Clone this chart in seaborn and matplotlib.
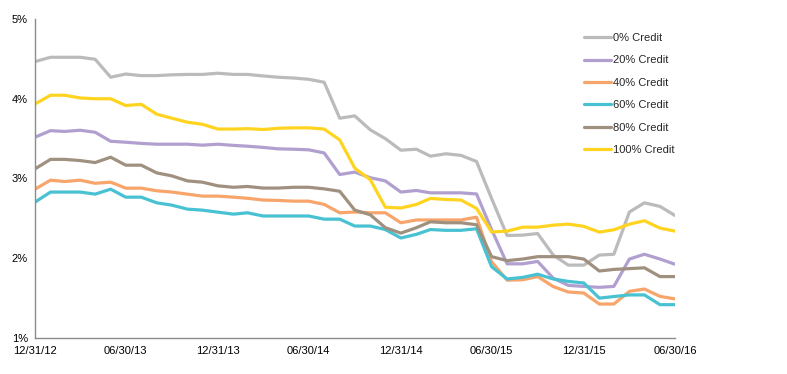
import numpy as np
import pandas as pd
import seaborn as sns
import matplotlib
matplotlib.use("Agg")
import matplotlib.pyplot as plt
import matplotlib.dates as mdates
from matplotlib.ticker import FuncFormatter

# ---- data (monthly, 12/31/12 .. 06/30/16) ----
series_names = ["0% Credit", "20% Credit", "40% Credit", "60% Credit", "80% Credit", "100% Credit"]

credit_0 = [4.466, 4.52, 4.52, 4.52, 4.495, 4.27, 4.31, 4.29, 4.29, 4.30, 4.305, 4.305, 4.32, 4.305, 4.305,
            4.286, 4.27, 4.26, 4.244, 4.207, 3.756, 3.785, 3.61, 3.50, 3.355, 3.367, 3.28, 3.31, 3.29, 3.213,
            2.75, 2.285, 2.29, 2.31, 2.04, 1.914, 1.914, 2.04, 2.05, 2.58, 2.695, 2.65, 2.536]
credit_20 = [3.518, 3.60, 3.59, 3.605, 3.58, 3.467, 3.455, 3.44, 3.43, 3.43, 3.43, 3.418, 3.43, 3.415, 3.405,
             3.39, 3.372, 3.367, 3.36, 3.32, 3.05, 3.08, 3.01, 2.97, 2.83, 2.85, 2.82, 2.82, 2.82, 2.806,
             2.36, 1.93, 1.93, 1.96, 1.75, 1.66, 1.647, 1.635, 1.647, 1.99, 2.05, 1.99, 1.925]
credit_40 = [2.866, 2.979, 2.962, 2.979, 2.94, 2.954, 2.879, 2.879, 2.846, 2.83, 2.804, 2.779, 2.779, 2.766, 2.752,
             2.73, 2.725, 2.716, 2.716, 2.675, 2.57, 2.58, 2.57, 2.57, 2.445, 2.48, 2.48, 2.48, 2.48, 2.515,
             1.957, 1.725, 1.73, 1.77, 1.645, 1.577, 1.564, 1.426, 1.426, 1.585, 1.614, 1.522, 1.49]
credit_60 = [2.704, 2.83, 2.83, 2.83, 2.804, 2.866, 2.766, 2.766, 2.695, 2.666, 2.616, 2.603, 2.578, 2.553, 2.57,
             2.53, 2.53, 2.53, 2.53, 2.49, 2.49, 2.404, 2.404, 2.36, 2.254, 2.30, 2.36, 2.35, 2.35, 2.37,
             1.894, 1.74, 1.76, 1.80, 1.74, 1.71, 1.69, 1.50, 1.52, 1.54, 1.54, 1.418, 1.418]
credit_80 = [3.121, 3.24, 3.24, 3.225, 3.2, 3.267, 3.167, 3.167, 3.07, 3.033, 2.97, 2.954, 2.908, 2.89, 2.90,
             2.88, 2.88, 2.89, 2.89, 2.87, 2.84, 2.604, 2.545, 2.383, 2.315, 2.383, 2.457, 2.445, 2.445, 2.42,
             2.02, 1.97, 1.99, 2.02, 2.02, 2.02, 1.99, 1.84, 1.86, 1.87, 1.88, 1.77, 1.77]
credit_100 = [3.935, 4.044, 4.044, 4.01, 4.0, 4.0, 3.915, 3.93, 3.806, 3.756, 3.706, 3.68, 3.62, 3.62, 3.625,
              3.614, 3.63, 3.635, 3.635, 3.62, 3.484, 3.13, 2.985, 2.64, 2.63, 2.675, 2.75, 2.737, 2.73, 2.625,
              2.33, 2.34, 2.39, 2.39, 2.415, 2.428, 2.40, 2.328, 2.357, 2.428, 2.47, 2.378, 2.34]

tick_dates = ["2012-12-31", "2013-06-30", "2013-12-31", "2014-06-30",
              "2014-12-31", "2015-06-30", "2015-12-31", "2016-06-30"]
y_ticks = [1, 2, 3, 4, 5]

try:
    dates = pd.date_range("2012-12-31", "2016-06-30", freq="ME")
except ValueError:
    dates = pd.date_range("2012-12-31", "2016-06-30", freq="M")

all_series = [credit_0, credit_20, credit_40, credit_60, credit_80, credit_100]
df = pd.concat([pd.DataFrame({"date": dates, "value": vals, "series": name})
                for name, vals in zip(series_names, all_series)], ignore_index=True)

colors = ["#BBBBBB", "#B1A0CF", "#F7A56B", "#48C2D2", "#A09080", "#FFD421"]
palette = dict(zip(series_names, colors))

# ---- figure ----
sns.set_style("white")
plt.rcParams["font.family"] = ["Liberation Sans", "DejaVu Sans"]

W, H = 787, 374
fig = plt.figure(figsize=(W / 100, H / 100), dpi=100)
ax = fig.add_axes([35 / W, (H - 338) / H, 640 / W, 319 / H])

sns.lineplot(data=df, x="date", y="value", hue="series", hue_order=series_names,
             palette=palette, linewidth=2.3, ax=ax, legend=True)

ax.set_xlim(pd.Timestamp("2012-12-31"), pd.Timestamp("2016-06-30"))
ax.set_ylim(1, 5)
ax.set_yticks(y_ticks)
ax.yaxis.set_major_formatter(FuncFormatter(lambda v, p: f"{v:.0f}%"))
ax.set_xticks(pd.to_datetime(tick_dates))
ax.xaxis.set_major_formatter(mdates.DateFormatter("%m/%d/%y"))
ax.set_xlabel("")
ax.set_ylabel("")

for s in ["top", "right"]:
    ax.spines[s].set_visible(False)
for s in ["left", "bottom"]:
    ax.spines[s].set_color("#8C8C8C")
    ax.spines[s].set_linewidth(1.0)

ax.tick_params(axis="both", which="major", length=3, width=0.8, color="#8C8C8C",
               labelsize=8, labelcolor="#000000", direction="out", pad=2)
ax.tick_params(axis="x", pad=2.5)

leg = ax.legend(loc="upper left", bbox_to_anchor=(584 / W, 1 - 33 / H),
                bbox_transform=fig.transFigure, frameon=False, fontsize=8,
                handlelength=2.45, handletextpad=0.2, labelspacing=1.12,
                borderpad=0, borderaxespad=0)
for line in leg.get_lines():
    line.set_linewidth(2.3)

fig.savefig("out.png", dpi=100)
